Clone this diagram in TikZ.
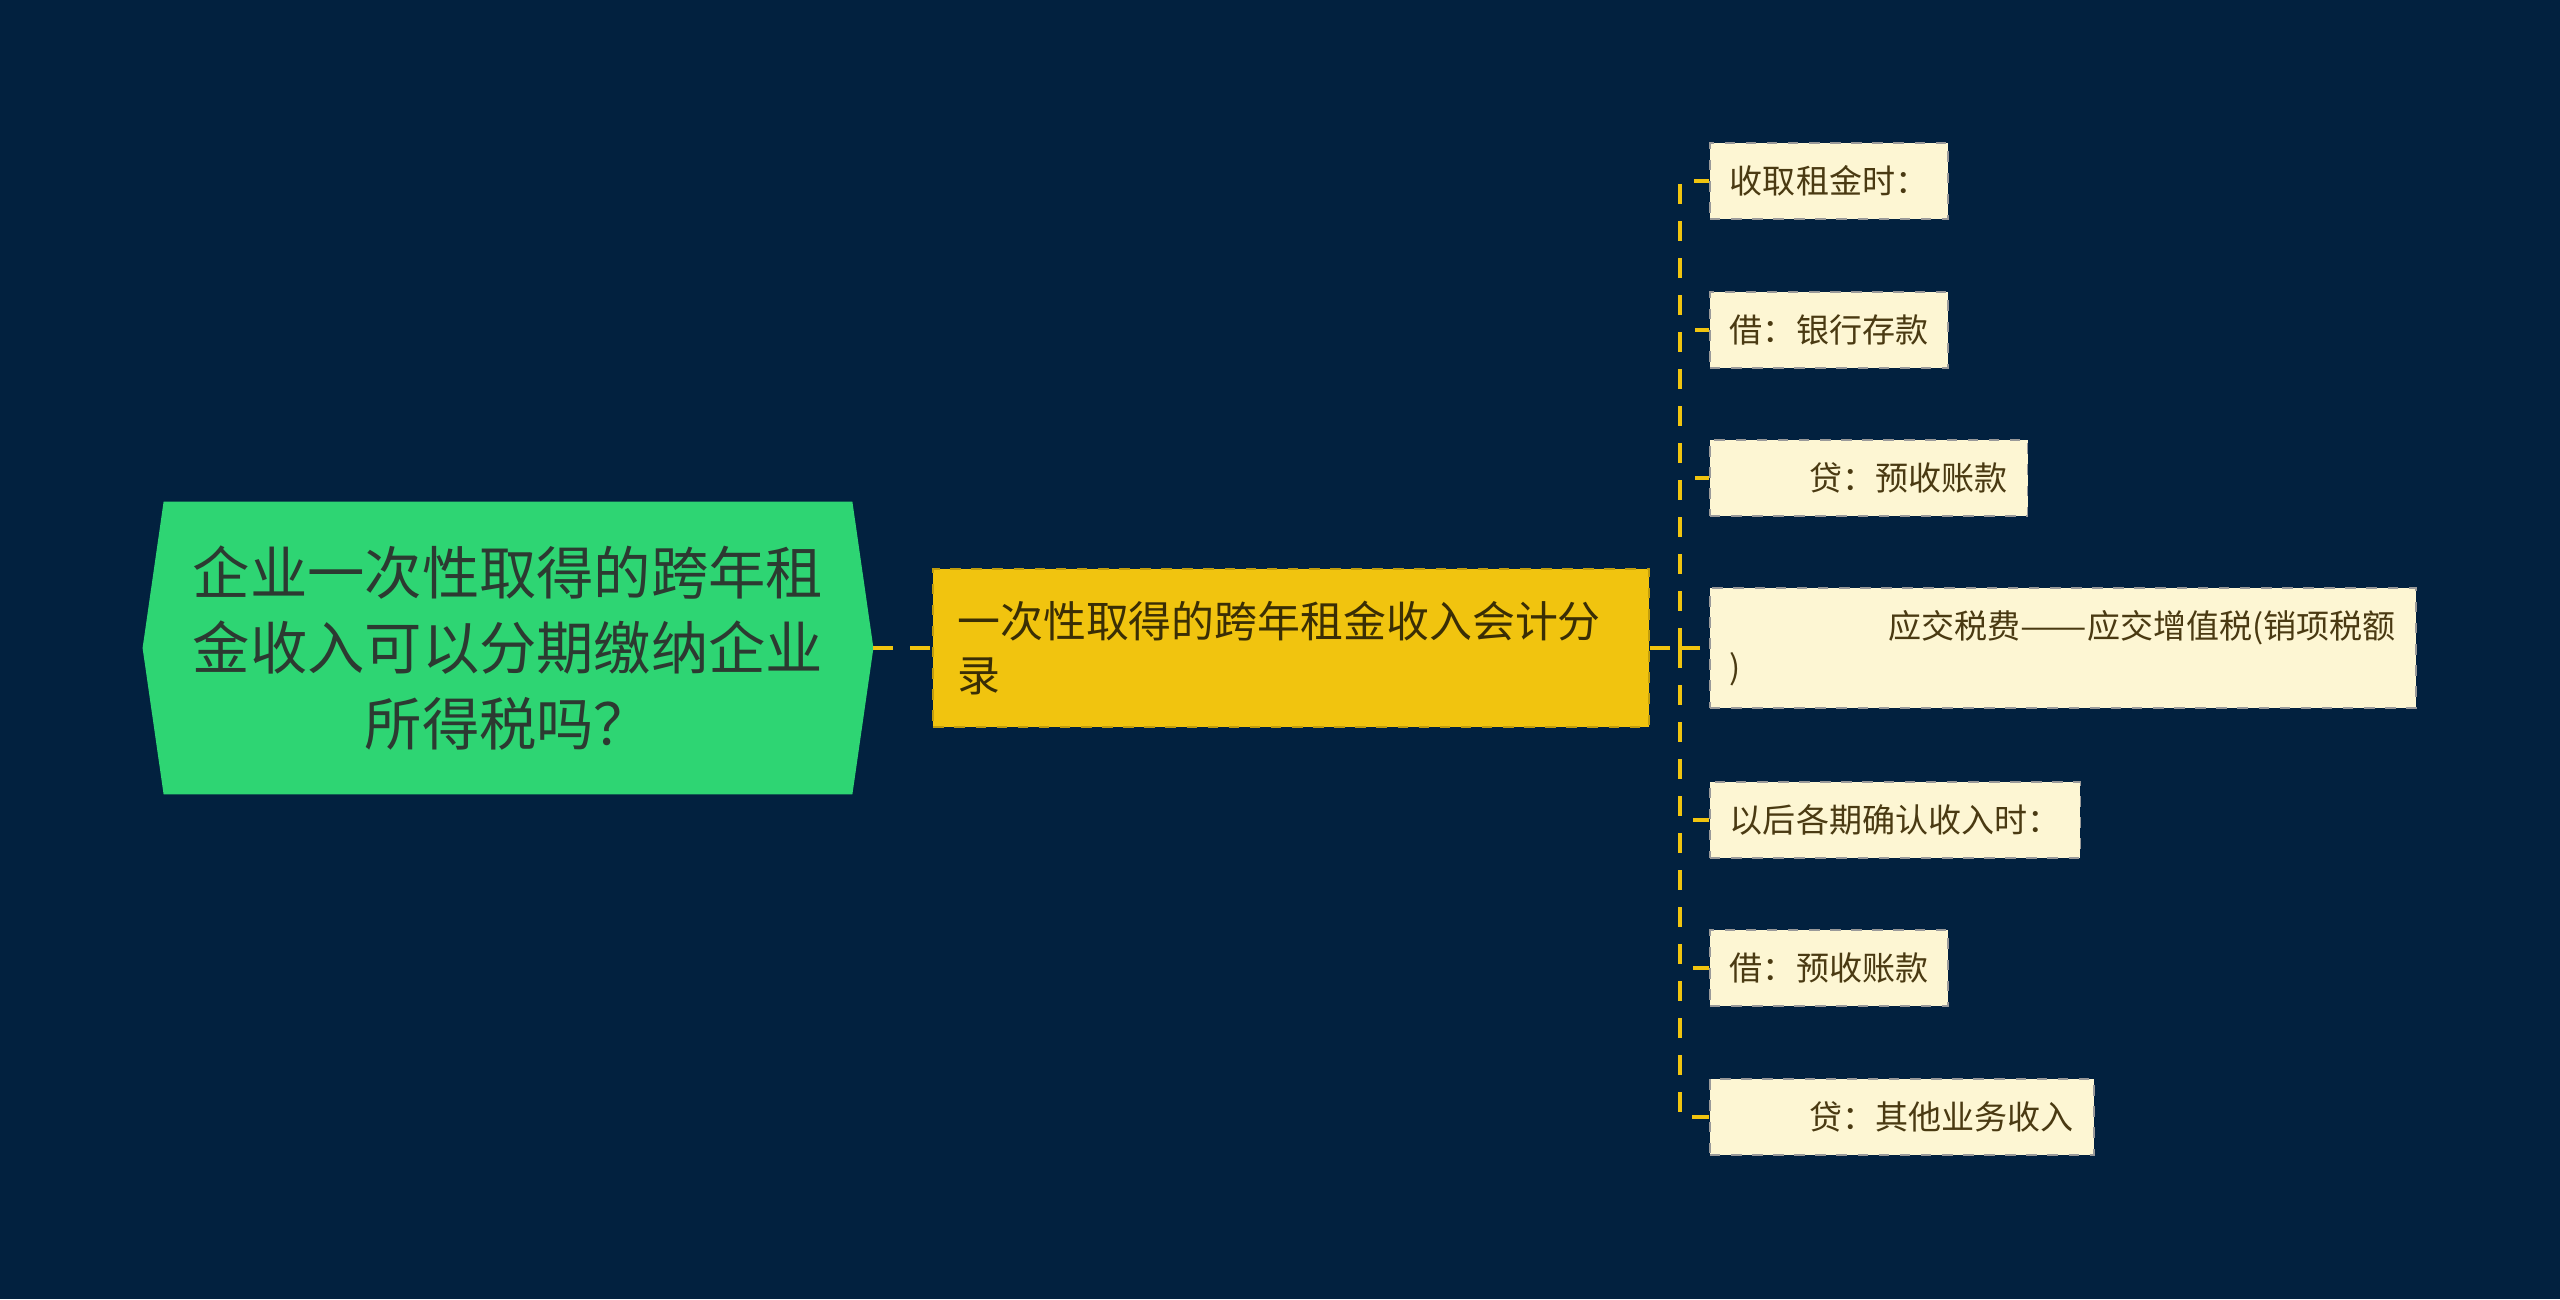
\documentclass[tikz,border=0pt]{standalone}
\usepackage{fontspec}
\setmainfont{Noto Sans CJK SC}
\usetikzlibrary{calc}
\usetikzlibrary{backgrounds}
\definecolor{navy}{HTML}{02213F}
\definecolor{rootgreen}{HTML}{2ED573}
\definecolor{roottext}{HTML}{2C3A31}
\definecolor{gold}{HTML}{F1C40F}
\definecolor{goldtext}{HTML}{3A2E05}
\definecolor{cream}{HTML}{FDF6D3}
\definecolor{leaftext}{HTML}{4A3A12}
\newcommand\rootfont{\fontsize{16.3pt}{21.6pt}\selectfont}
\newcommand\midfont{\fontsize{12.2pt}{15.4pt}\selectfont}
\newcommand\leaffont{\fontsize{9.4pt}{11.7pt}\selectfont}

\begin{document}
\begin{tikzpicture}[x=0.01cm,y=-0.01cm,
  link/.style={gold,line width=0.9pt,dash pattern=on 0.2cm off 0.17cm},
  leaf/.style={fill=cream,draw=black!40,dashed,line width=0.5pt,text=leaftext,
    anchor=west,align=left,inner xsep=0.2cm,minimum height=0.76cm,font=\leaffont}]
\def\tip{21};
\def\trunk{1680};
\def\lx{1709};
\node[text=roottext,align=center,minimum width=6.87cm,minimum height=2.91cm,font=\rootfont] (root) at (508,648)
  {企业一次性取得的跨年租\\金收入可以分期缴纳企业\\所得税吗？};
\coordinate (rootL) at ($(root.west)+(-\tip,0)$);
\coordinate (rootR) at ($(root.east)+(\tip,0)$);
\node[fill=gold,draw=gold!80!black,dashed,line width=0.5pt,text=goldtext,align=left,
  text width=6.67cm,inner xsep=0.24cm,minimum height=1.58cm,font=\midfont] (mid) at (1291,648)
  {一次性取得的跨年租金收入会计分\\录};
\node[leaf] (l1) at (\lx,181) {收取租金时：};
\node[leaf] (l2) at (\lx,330) {借：银行存款};
\node[leaf] (l3) at (\lx,478) {\hspace*{2.4em}贷：预收账款};
\node[leaf,minimum height=1.2cm] (l4) at (\lx,648)
  {\hspace*{4.8em}应交税费\scalebox{1.2}[1]{——}应交增值税(销项税额\\)};
\node[leaf] (l5) at (\lx,820) {以后各期确认收入时：};
\node[leaf] (l6) at (\lx,968) {借：预收账款};
\node[leaf] (l7) at (\lx,1117) {\hspace*{2.4em}贷：其他业务收入};
\coordinate (trunk) at (\trunk,648);
\begin{pgfonlayer}{background}
\fill[navy] (0,0) rectangle (2560,1299);
\fill[rootgreen] (root.north west) -- (root.north east) -- (rootR) -- (root.south east)
  -- (root.south west) -- (rootL) -- cycle;
\end{pgfonlayer}
\draw[link] (rootR) -- (mid.west);
\draw[link] (mid.east) -- (trunk);
\foreach \l in {l1,l2,l3,l4,l5,l6,l7}
  \draw[link] (trunk) |- (\l.west);
\end{tikzpicture}
\end{document}
